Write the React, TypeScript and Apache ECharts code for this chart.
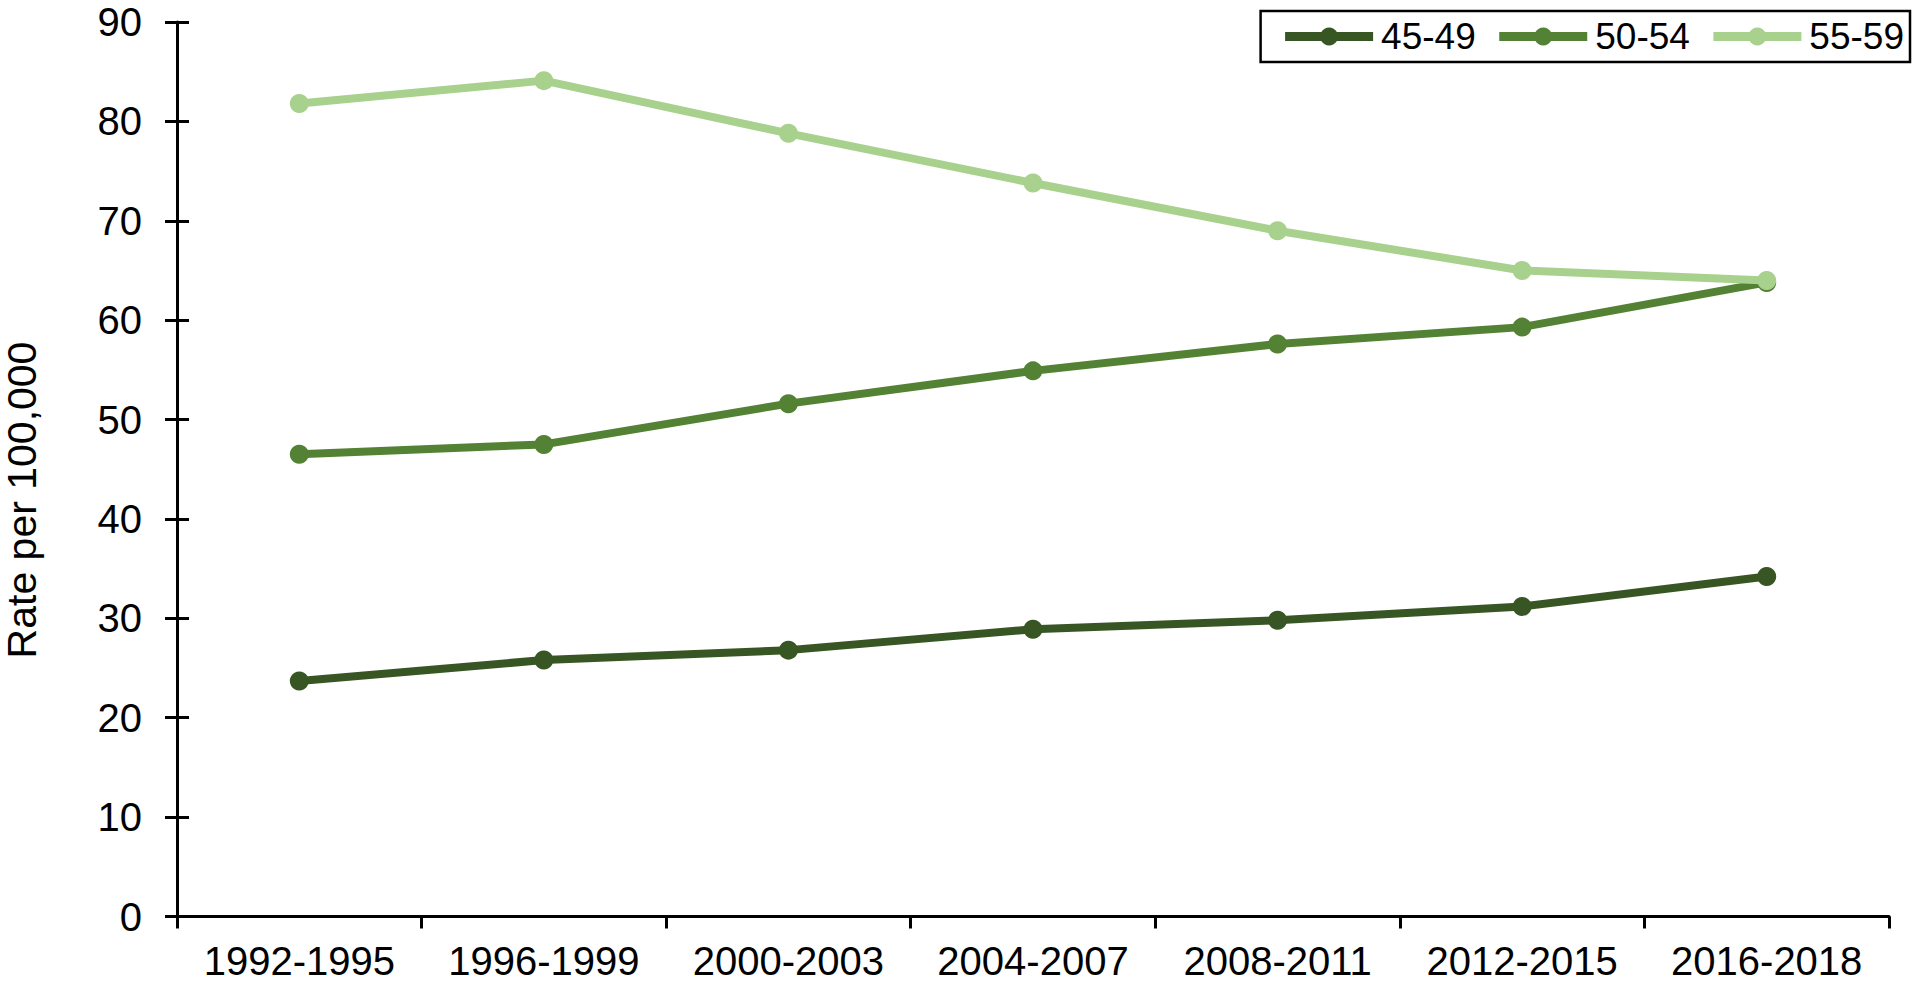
import React, { useEffect, useRef } from "react";
import * as echarts from "echarts";

const categories = ["1992-1995", "1996-1999", "2000-2003", "2004-2007", "2008-2011", "2012-2015", "2016-2018"];
const seriesNames = ["45-49", "50-54", "55-59"];
const age45to49 = [23.7, 25.8, 26.8, 28.9, 29.8, 31.2, 34.2];
const age50to54 = [46.5, 47.5, 51.6, 54.9, 57.6, 59.3, 63.8];
const age55to59 = [81.8, 84.1, 78.8, 73.8, 69.0, 65.0, 64.0];
const seriesColors = ["#375623", "#548235", "#A9D18E"];
const yMin = 0;
const yMax = 90;
const yInterval = 10;
const yAxisTitle = "Rate per 100,000";

const FONT = "'Liberation Sans', Arial, sans-serif";

export default function App() {
  const ref = useRef<HTMLDivElement>(null);
  useEffect(() => {
    if (!ref.current) return;
    const chart = echarts.init(ref.current, undefined, { renderer: "svg" });
    const values = [age45to49, age50to54, age55to59];
    chart.setOption({
      animation: false,
      backgroundColor: "#ffffff",
      textStyle: { fontFamily: FONT, color: "#000" },
      grid: { left: 177, right: 31, top: 22, bottom: 69.5, containLabel: false },
      legend: {
        data: seriesNames,
        right: 10,
        top: 11,
        orient: "horizontal",
        itemWidth: 88,
        itemHeight: 22.5,
        itemGap: 19,
        borderColor: "#000",
        borderWidth: 2.5,
        padding: [7, 6, 7, 20],
        lineStyle: { width: 9, cap: "butt" },
        textStyle: { fontSize: 37, color: "#000", fontFamily: FONT, padding: [0, 0, 0, 3] },
      },
      xAxis: {
        type: "category",
        data: categories,
        boundaryGap: true,
        axisLine: { show: true, lineStyle: { color: "#000", width: 3 } },
        axisTick: { show: true, length: 12, inside: false, interval: 0, lineStyle: { color: "#000", width: 3 } },
        axisLabel: { fontSize: 40, color: "#000", margin: 24, interval: 0, fontFamily: FONT },
        splitLine: { show: false },
      },
      yAxis: [
        {
          type: "value",
          min: yMin,
          max: yMax,
          interval: yInterval,
          axisLine: { show: true, lineStyle: { color: "#000", width: 3 } },
          axisTick: { show: true, length: 12, inside: false, lineStyle: { color: "#000", width: 3 } },
          axisLabel: { fontSize: 40, color: "#000", margin: 35, fontFamily: FONT },
          splitLine: { show: false },
        },
        {
          type: "value",
          position: "left",
          min: yMin,
          max: yMax,
          interval: yInterval,
          axisLine: { show: false },
          axisTick: { show: true, length: 12, inside: true, lineStyle: { color: "#000", width: 3 } },
          axisLabel: { show: false },
          splitLine: { show: false },
        },
      ],
      graphic: [
        {
          type: "text",
          x: 22,
          y: 500,
          rotation: Math.PI / 2,
          style: {
            text: yAxisTitle,
            fontSize: 41,
            fontFamily: FONT,
            fill: "#000",
            align: "center",
            verticalAlign: "middle",
          },
        },
      ],
      series: seriesNames.map((name, i) => ({
        name,
        type: "line",
        data: values[i],
        yAxisIndex: 0,
        symbol: "circle",
        symbolSize: 19,
        showAllSymbol: true,
        lineStyle: { color: seriesColors[i], width: 8 },
        itemStyle: { color: seriesColors[i] },
        emphasis: { disabled: true },
        z: 2 + i,
      })),
    });
    return () => chart.dispose();
  }, []);
  return <div ref={ref} style={{ position: "fixed", left: 0, top: 0, width: 1920, height: 986 }} />;
}
